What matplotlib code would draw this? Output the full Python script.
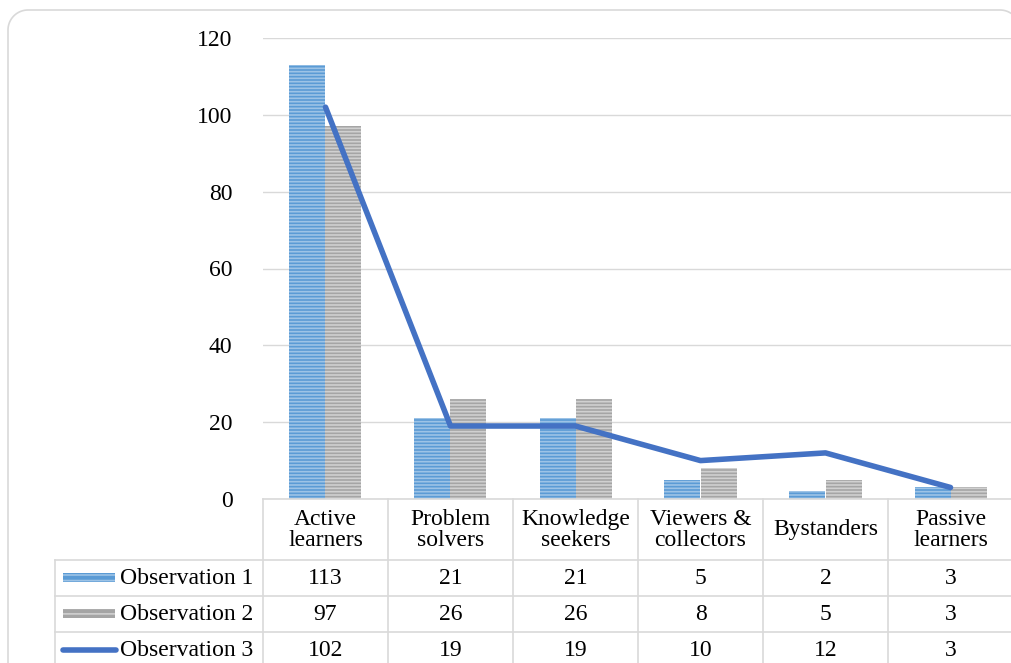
import matplotlib.pyplot as plt
import numpy as np
from matplotlib.patches import Rectangle
from matplotlib.transforms import blended_transform_factory

categories = ['Active\nlearners', 'Problem\nsolvers', 'Knowledge\nseekers',
              'Viewers &\ncollectors', 'Bystanders', 'Passive\nlearners']
obs1 = [113, 21, 21, 5, 2, 3]
obs2 = [97, 26, 26, 8, 5, 3]
obs3 = [102, 19, 19, 10, 12, 3]
series_names = ['Observation 1', 'Observation 2', 'Observation 3']

plt.rcParams['font.family'] = ['Liberation Serif', 'DejaVu Serif']
plt.rcParams['hatch.linewidth'] = 1.2

W, H = 1012, 663
fig = plt.figure(figsize=(W / 100, H / 100), dpi=100)


def fx(px):
    return px / W


def fy(py):
    return 1 - py / H


# rounded outer frame (pixel positions, top-left origin)
r = 20
t = np.linspace(0, np.pi / 2, 20)
left, right, top, bottom = 8, 1020, 10, 668
px = ([left] + list(left + r - r * np.cos(t)) +
      list(right - r + r * np.sin(t)) + [right])
py = ([bottom] + list(top + r - r * np.sin(t)) +
      list(top + r - r * np.cos(t)) + [bottom])
fig.add_artist(plt.Line2D([fx(v) for v in px], [fy(v) for v in py],
                          color='#d9d9d9', lw=1.2))

ax = fig.add_axes([fx(263), fy(499), fx(1013) - fx(263), fy(38) - fy(499)])
x = np.arange(len(categories))
bw = 0.288
ax.bar(x - bw / 2, obs1, bw, color='#5b9bd5', edgecolor='#9dc3e6',
       hatch='-----', linewidth=0)
ax.bar(x + bw / 2, obs2, bw, color='#a5a5a5', edgecolor='#d0d0d0',
       hatch='-----', linewidth=0)
ax.plot(x, obs3, color='#4472c4', linewidth=4, solid_capstyle='round',
        zorder=5)

ax.set_xlim(-0.5, len(categories) - 0.5)
ax.set_ylim(0, 120)
ax.set_yticks(range(0, 121, 20))
ax.tick_params(axis='y', length=0, labelsize=17, pad=22)
ax.set_xticks([])
ax.yaxis.grid(True, color='#d9d9d9', linewidth=1)
ax.set_axisbelow(True)
for s in ['top', 'right', 'left']:
    ax.spines[s].set_visible(False)
ax.spines['bottom'].set_color('#d9d9d9')
ax.spines['bottom'].set_linewidth(1.2)

# data table below the axes
tr = blended_transform_factory(ax.transData, fig.transFigure)
lc = '#d9d9d9'
row_y = [560, 596, 632, 668]
for ry in row_y:
    fig.add_artist(plt.Line2D([fx(55), fx(1020)], [fy(ry), fy(ry)], color=lc, lw=1.2))
fig.add_artist(plt.Line2D([fx(55), fx(55)], [fy(560), fy(700)], color=lc, lw=1.2))
for i in range(len(categories)):
    fig.add_artist(plt.Line2D([i - 0.5, i - 0.5], [fy(499), fy(700)],
                              color=lc, lw=1.2, transform=tr))

for i, c in enumerate(categories):
    fig.text(i, fy(530), c, transform=tr, ha='center', va='center',
             fontsize=17, linespacing=1.0)

rows = [obs1, obs2, obs3]
for r_i, vals in enumerate(rows):
    yc = (row_y[r_i] + row_y[r_i + 1]) / 2
    for i, v in enumerate(vals):
        fig.text(i, fy(yc), str(v), transform=tr, ha='center', va='center',
                 fontsize=17)
    fig.text(fx(120), fy(yc), series_names[r_i], ha='left', va='center',
             fontsize=17)

# legend keys in the table
fig.patches.append(Rectangle((fx(63), fy(582)), fx(52), fy(573) - fy(582),
                             transform=fig.transFigure, facecolor='#5b9bd5',
                             edgecolor='#9dc3e6', hatch='---', linewidth=0))
fig.patches.append(Rectangle((fx(63), fy(618)), fx(52), fy(609) - fy(618),
                             transform=fig.transFigure, facecolor='#a5a5a5',
                             edgecolor='#d0d0d0', hatch='---', linewidth=0))
fig.add_artist(plt.Line2D([fx(63), fx(116)], [fy(650), fy(650)],
                          color='#4472c4', lw=4, solid_capstyle='round'))

fig.savefig('out.png', dpi=100)
